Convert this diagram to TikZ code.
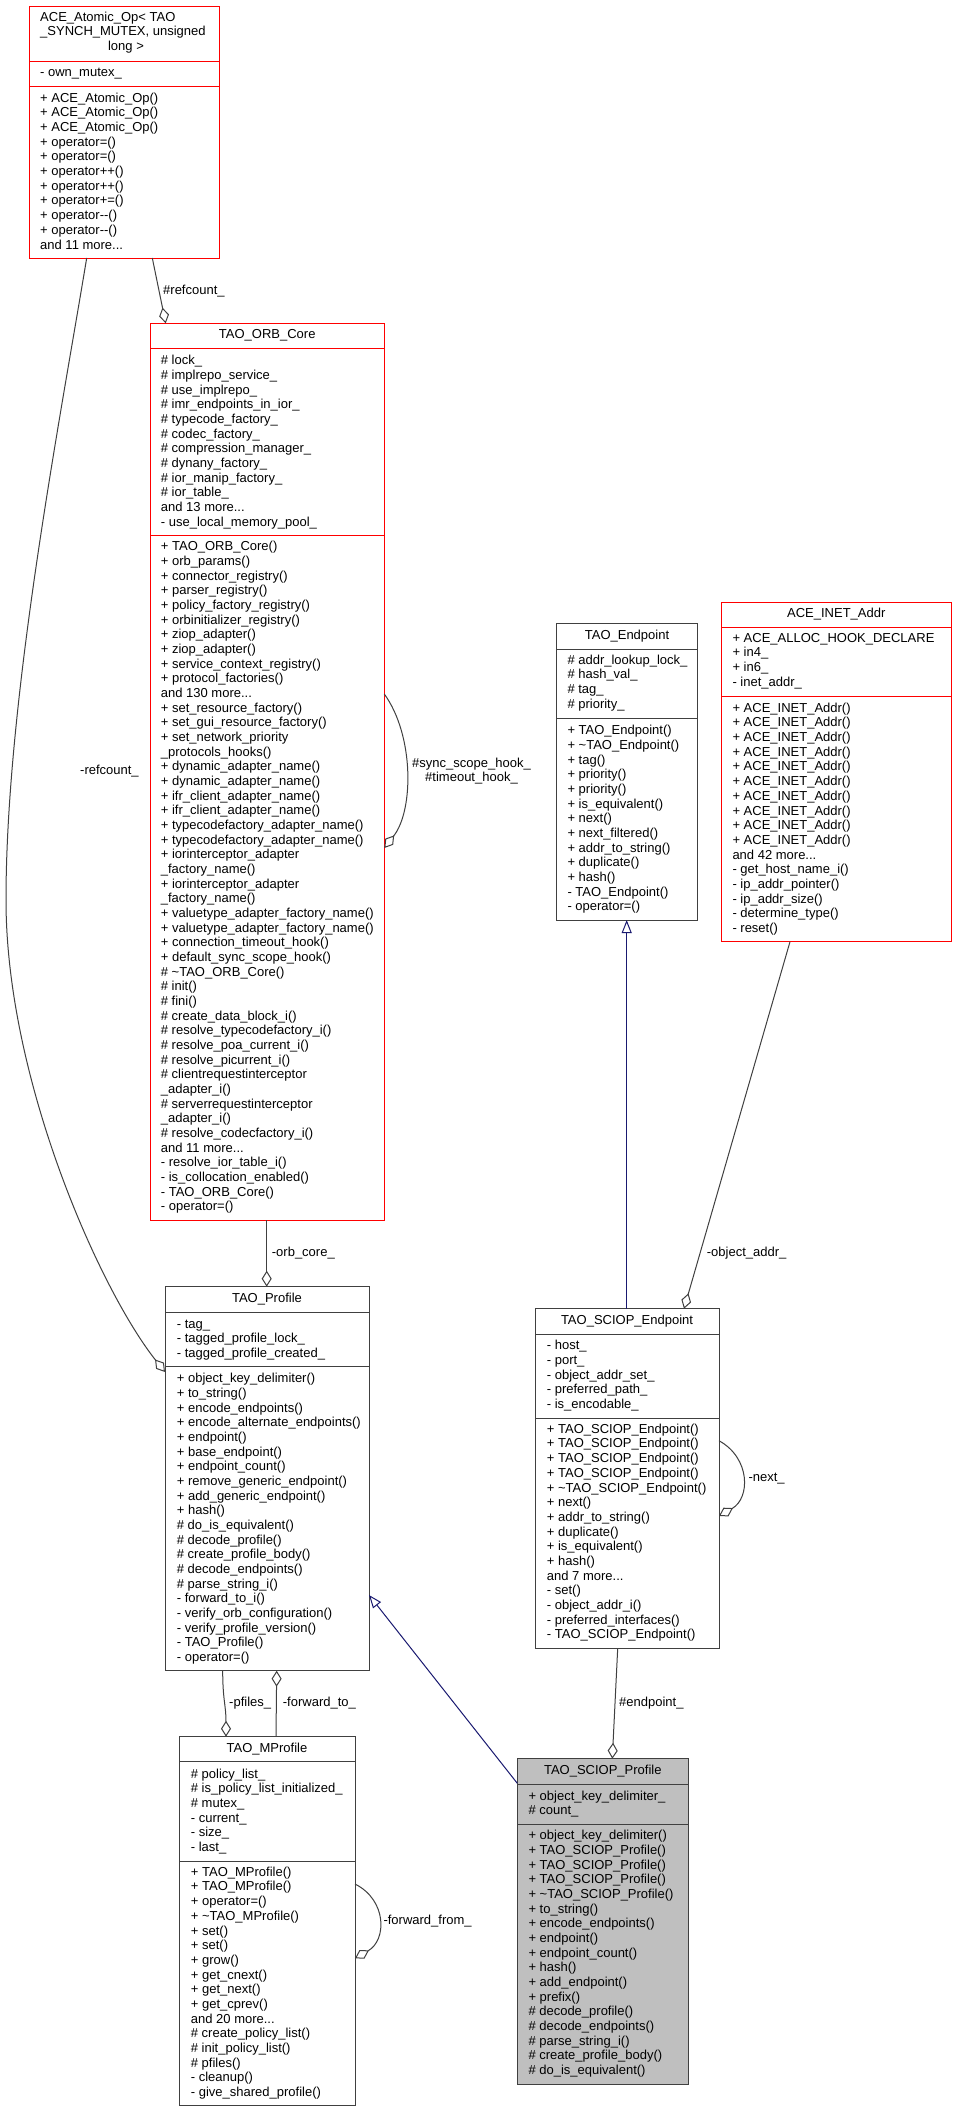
\documentclass[tikz,border=0pt]{standalone}
\usepackage{fontspec}
\setmainfont{Liberation Sans}
\usetikzlibrary{arrows.meta,calc}
\definecolor{gfour}{HTML}{404040}
\definecolor{mblue}{HTML}{191970}
\definecolor{gfill}{HTML}{BFBFBF}
\definecolor{dred}{HTML}{FF0000}
\newcommand\mystrut{\rule{0pt}{10.5pt}}
\newcommand\fnt{\fontsize{13}{14.67}\selectfont}
\begin{document}
\begin{tikzpicture}[x=1pt,y=-1pt,
 cls/.style={rectangle, inner sep=0pt, outer sep=0pt, line width=1pt, anchor=north west},
 redcls/.style={cls, draw=dred},
 blkcls/.style={cls, draw=gfour},
 rsep/.style={draw=dred, line width=1pt},
 bsep/.style={draw=gfour, line width=1pt},
 txt/.style={anchor=north west, inner sep=0pt, align=left, font=\fnt},
 ttl/.style={anchor=north, inner sep=0pt, align=center, font=\fnt},
 comp/.style={draw=gfour, line width=1pt, -{Diamond[open, length=16pt, width=10pt]}},
 inh/.style={draw=mblue, line width=1pt, -{Triangle[open, length=13pt, width=10pt]}},
]
\fill[white] (0,0) rectangle (956,2112);
\useasboundingbox (0,0) rectangle (956,2112);

% ---------- boxes ----------
\node[redcls, minimum width=190pt, minimum height=252pt] (A) at (29,6) {};
\draw[rsep] (29,61) -- (219,61);
\draw[rsep] (29,86) -- (219,86);

\node[redcls, minimum width=234.3pt, minimum height=896.7pt] (B) at (150,323.3) {};
\draw[rsep] (150,348.3) -- (384.3,348.3);
\draw[rsep] (150,535.3) -- (384.3,535.3);

\node[blkcls, minimum width=204pt, minimum height=384pt] (C) at (165,1286.7) {};
\draw[bsep] (165,1312) -- (369,1312);
\draw[bsep] (165,1366.7) -- (369,1366.7);

\node[blkcls, minimum width=141.4pt, minimum height=296.3pt] (D) at (556.3,623.7) {};
\draw[bsep] (556.3,649.3) -- (697.7,649.3);
\draw[bsep] (556.3,718.3) -- (697.7,718.3);

\node[redcls, minimum width=229.3pt, minimum height=339.7pt] (E) at (721.7,602) {};
\draw[rsep] (721.7,627.3) -- (951,627.3);
\draw[rsep] (721.7,696.7) -- (951,696.7);

\node[blkcls, minimum width=184pt, minimum height=339.6pt] (F) at (535,1308.7) {};
\draw[bsep] (535,1334.3) -- (719,1334.3);
\draw[bsep] (535,1418.3) -- (719,1418.3);

\node[blkcls, minimum width=176pt, minimum height=369pt] (G) at (179,1736.7) {};
\draw[bsep] (179,1761.7) -- (355,1761.7);
\draw[bsep] (179,1861) -- (355,1861);

\node[blkcls, fill=gfill, minimum width=171pt, minimum height=325.3pt] (H) at (517.3,1758.7) {};
\draw[bsep] (517.3,1784) -- (688.3,1784);
\draw[bsep] (517.3,1824) -- (688.3,1824);

% ---------- texts: ACE_Atomic_Op ----------
\node[txt] (At1) at (40,10.6) {\mystrut ACE\_Atomic\_Op< TAO\\\_SYNCH\_MUTEX, unsigned};
\node[ttl] (At2) at (126,40) {\mystrut long >};
\node[txt] (Aa) at (40,66) {\mystrut - own\_mutex\_};
\node[txt] (Am) at (40,91.6) {\mystrut + ACE\_Atomic\_Op()\\+ ACE\_Atomic\_Op()\\+ ACE\_Atomic\_Op()\\+ operator=()\\+ operator=()\\+ operator++()\\+ operator++()\\+ operator+=()\\+ operator-{}-()\\+ operator-{}-()\\and 11 more...};

% ---------- TAO_ORB_Core ----------
\node[ttl] (Bt) at (267.2,327.3) {\mystrut TAO\_ORB\_Core};
\node[txt] (Ba) at (160.7,354) {\mystrut \# lock\_\\\# implrepo\_service\_\\\# use\_implrepo\_\\\# imr\_endpoints\_in\_ior\_\\\# typecode\_factory\_\\\# codec\_factory\_\\\# compression\_manager\_\\\# dynany\_factory\_\\\# ior\_manip\_factory\_\\\# ior\_table\_\\and 13 more...\\- use\_local\_memory\_pool\_};
\node[txt] (Bm) at (160.7,540) {\mystrut + TAO\_ORB\_Core()\\+ orb\_params()\\+ connector\_registry()\\+ parser\_registry()\\+ policy\_factory\_registry()\\+ orbinitializer\_registry()\\+ ziop\_adapter()\\+ ziop\_adapter()\\+ service\_context\_registry()\\+ protocol\_factories()\\and 130 more...\\+ set\_resource\_factory()\\+ set\_gui\_resource\_factory()\\+ set\_network\_priority\\\_protocols\_hooks()\\+ dynamic\_adapter\_name()\\+ dynamic\_adapter\_name()\\+ ifr\_client\_adapter\_name()\\+ ifr\_client\_adapter\_name()\\+ typecodefactory\_adapter\_name()\\+ typecodefactory\_adapter\_name()\\+ iorinterceptor\_adapter\\\_factory\_name()\\+ iorinterceptor\_adapter\\\_factory\_name()\\+ valuetype\_adapter\_factory\_name()\\+ valuetype\_adapter\_factory\_name()\\+ connection\_timeout\_hook()\\+ default\_sync\_scope\_hook()\\\# \textasciitilde TAO\_ORB\_Core()\\\# init()\\\# fini()\\\# create\_data\_block\_i()\\\# resolve\_typecodefactory\_i()\\\# resolve\_poa\_current\_i()\\\# resolve\_picurrent\_i()\\\# clientrequestinterceptor\\\_adapter\_i()\\\# serverrequestinterceptor\\\_adapter\_i()\\\# resolve\_codecfactory\_i()\\and 11 more...\\- resolve\_ior\_table\_i()\\- is\_collocation\_enabled()\\- TAO\_ORB\_Core()\\- operator=()};

% ---------- TAO_Profile ----------
\node[ttl] (Ct) at (267,1291.6) {\mystrut TAO\_Profile};
\node[txt] (Ca) at (176.7,1317.3) {\mystrut - tag\_\\- tagged\_profile\_lock\_\\- tagged\_profile\_created\_};
\node[txt] (Cm) at (176.7,1372) {\mystrut + object\_key\_delimiter()\\+ to\_string()\\+ encode\_endpoints()\\+ encode\_alternate\_endpoints()\\+ endpoint()\\+ base\_endpoint()\\+ endpoint\_count()\\+ remove\_generic\_endpoint()\\+ add\_generic\_endpoint()\\+ hash()\\\# do\_is\_equivalent()\\\# decode\_profile()\\\# create\_profile\_body()\\\# decode\_endpoints()\\\# parse\_string\_i()\\- forward\_to\_i()\\- verify\_orb\_configuration()\\- verify\_profile\_version()\\- TAO\_Profile()\\- operator=()};

% ---------- TAO_Endpoint ----------
\node[ttl] (Dt) at (627,628.3) {\mystrut TAO\_Endpoint};
\node[txt] (Da) at (567.3,653.6) {\mystrut \# addr\_lookup\_lock\_\\\# hash\_val\_\\\# tag\_\\\# priority\_};
\node[txt] (Dm) at (567.3,724) {\mystrut + TAO\_Endpoint()\\+ \textasciitilde TAO\_Endpoint()\\+ tag()\\+ priority()\\+ priority()\\+ is\_equivalent()\\+ next()\\+ next\_filtered()\\+ addr\_to\_string()\\+ duplicate()\\+ hash()\\- TAO\_Endpoint()\\- operator=()};

% ---------- ACE_INET_Addr ----------
\node[ttl] (Et) at (836.3,606.6) {\mystrut ACE\_INET\_Addr};
\node[txt] (Ea) at (732.3,631.6) {\mystrut + ACE\_ALLOC\_HOOK\_DECLARE\\+ in4\_\\+ in6\_\\- inet\_addr\_};
\node[txt] (Em) at (732.3,701.6) {\mystrut + ACE\_INET\_Addr()\\+ ACE\_INET\_Addr()\\+ ACE\_INET\_Addr()\\+ ACE\_INET\_Addr()\\+ ACE\_INET\_Addr()\\+ ACE\_INET\_Addr()\\+ ACE\_INET\_Addr()\\+ ACE\_INET\_Addr()\\+ ACE\_INET\_Addr()\\+ ACE\_INET\_Addr()\\and 42 more...\\- get\_host\_name\_i()\\- ip\_addr\_pointer()\\- ip\_addr\_size()\\- determine\_type()\\- reset()};

% ---------- TAO_SCIOP_Endpoint ----------
\node[ttl] (Ft) at (627,1313.3) {\mystrut TAO\_SCIOP\_Endpoint};
\node[txt] (Fa) at (546.7,1339) {\mystrut - host\_\\- port\_\\- object\_addr\_set\_\\- preferred\_path\_\\- is\_encodable\_};
\node[txt] (Fm) at (546.7,1422.6) {\mystrut + TAO\_SCIOP\_Endpoint()\\+ TAO\_SCIOP\_Endpoint()\\+ TAO\_SCIOP\_Endpoint()\\+ TAO\_SCIOP\_Endpoint()\\+ \textasciitilde TAO\_SCIOP\_Endpoint()\\+ next()\\+ addr\_to\_string()\\+ duplicate()\\+ is\_equivalent()\\+ hash()\\and 7 more...\\- set()\\- object\_addr\_i()\\- preferred\_interfaces()\\- TAO\_SCIOP\_Endpoint()};

% ---------- TAO_MProfile ----------
\node[ttl] (Gt) at (267,1741.6) {\mystrut TAO\_MProfile};
\node[txt] (Ga) at (190.7,1767.3) {\mystrut \# policy\_list\_\\\# is\_policy\_list\_initialized\_\\\# mutex\_\\- current\_\\- size\_\\- last\_};
\node[txt] (Gm) at (190.7,1865.6) {\mystrut + TAO\_MProfile()\\+ TAO\_MProfile()\\+ operator=()\\+ \textasciitilde TAO\_MProfile()\\+ set()\\+ set()\\+ grow()\\+ get\_cnext()\\+ get\_next()\\+ get\_cprev()\\and 20 more...\\\# create\_policy\_list()\\\# init\_policy\_list()\\\# pfiles()\\- cleanup()\\- give\_shared\_profile()};

% ---------- TAO_SCIOP_Profile ----------
\node[ttl] (Ht) at (602.8,1763.3) {\mystrut TAO\_SCIOP\_Profile};
\node[txt] (Ha) at (528.3,1789.3) {\mystrut + object\_key\_delimiter\_\\\# count\_};
\node[txt] (Hm) at (528.3,1829) {\mystrut + object\_key\_delimiter()\\+ TAO\_SCIOP\_Profile()\\+ TAO\_SCIOP\_Profile()\\+ TAO\_SCIOP\_Profile()\\+ \textasciitilde TAO\_SCIOP\_Profile()\\+ to\_string()\\+ encode\_endpoints()\\+ endpoint()\\+ endpoint\_count()\\+ hash()\\+ add\_endpoint()\\+ prefix()\\\# decode\_profile()\\\# decode\_endpoints()\\\# parse\_string\_i()\\\# create\_profile\_body()\\\# do\_is\_equivalent()};

% ---------- connectors ----------
\draw[comp] ($(A.south west)+(123.3,0)$) -- ($(B.north west)+(15.7,0)$);
\draw[comp] ($(A.south west)+(57.7,0)$) .. controls (60,420) and (6,700) .. (6,900)
  .. controls (6,1080) and (100,1290) .. ($(C.north west)+(0,85.3)$);
\draw[comp] ($(B.north east)+(0,370.7)$) .. controls (414,735) and (414,810) .. ($(B.north east)+(0,524.7)$);
\draw[comp] ($(B.south west)+(116.7,0)$) -- ($(C.north west)+(101.7,0)$);
\draw[comp] ($(C.south west)+(57.7,0)$) .. controls (222.7,1700) and (226,1705) .. ($(G.north west)+(47,0)$);
\draw[comp] ($(G.north west)+(97,0)$) -- ($(C.south west)+(111.7,0)$);
\draw[comp] ($(G.north east)+(0,147.3)$) .. controls (387,1900) and (387,1940) .. ($(G.north east)+(0,221.6)$);
\draw[inh] ($(F.north west)+(91.7,0)$) -- ($(D.south west)+(70.4,0)$);
\draw[comp] ($(E.south west)+(68.3,0)$) -- ($(F.north west)+(149,0)$);
\draw[comp] ($(F.north east)+(0,132)$) .. controls (750.5,1458) and (750.5,1498) .. ($(F.north east)+(0,207.3)$);
\draw[comp] ($(F.south west)+(82.7,0)$) -- ($(H.north west)+(95,0)$);
\draw[inh] ($(H.north west)+(0,24.6)$) -- ($(C.north east)+(0,308.3)$);

% ---------- connector labels ----------
\node[txt] (L1) at (163,283.3) {\mystrut \#refcount\_};
\node[txt] (L2) at (80,764) {\mystrut -refcount\_};
\node[ttl] (L3) at (471.5,756.6) {\mystrut \#sync\_scope\_hook\_\\\#timeout\_hook\_};
\node[txt] (L4) at (271.7,1246) {\mystrut -orb\_core\_};
\node[txt] (L5) at (229,1696) {\mystrut -pfiles\_};
\node[txt] (L6) at (282.7,1696) {\mystrut -forward\_to\_};
\node[txt] (L7) at (383.3,1913.3) {\mystrut -forward\_from\_};
\node[txt] (L8) at (706.7,1246) {\mystrut -object\_addr\_};
\node[txt] (L9) at (748.3,1471) {\mystrut -next\_};
\node[txt] (L10) at (619,1696) {\mystrut \#endpoint\_};
\end{tikzpicture}
\end{document}
